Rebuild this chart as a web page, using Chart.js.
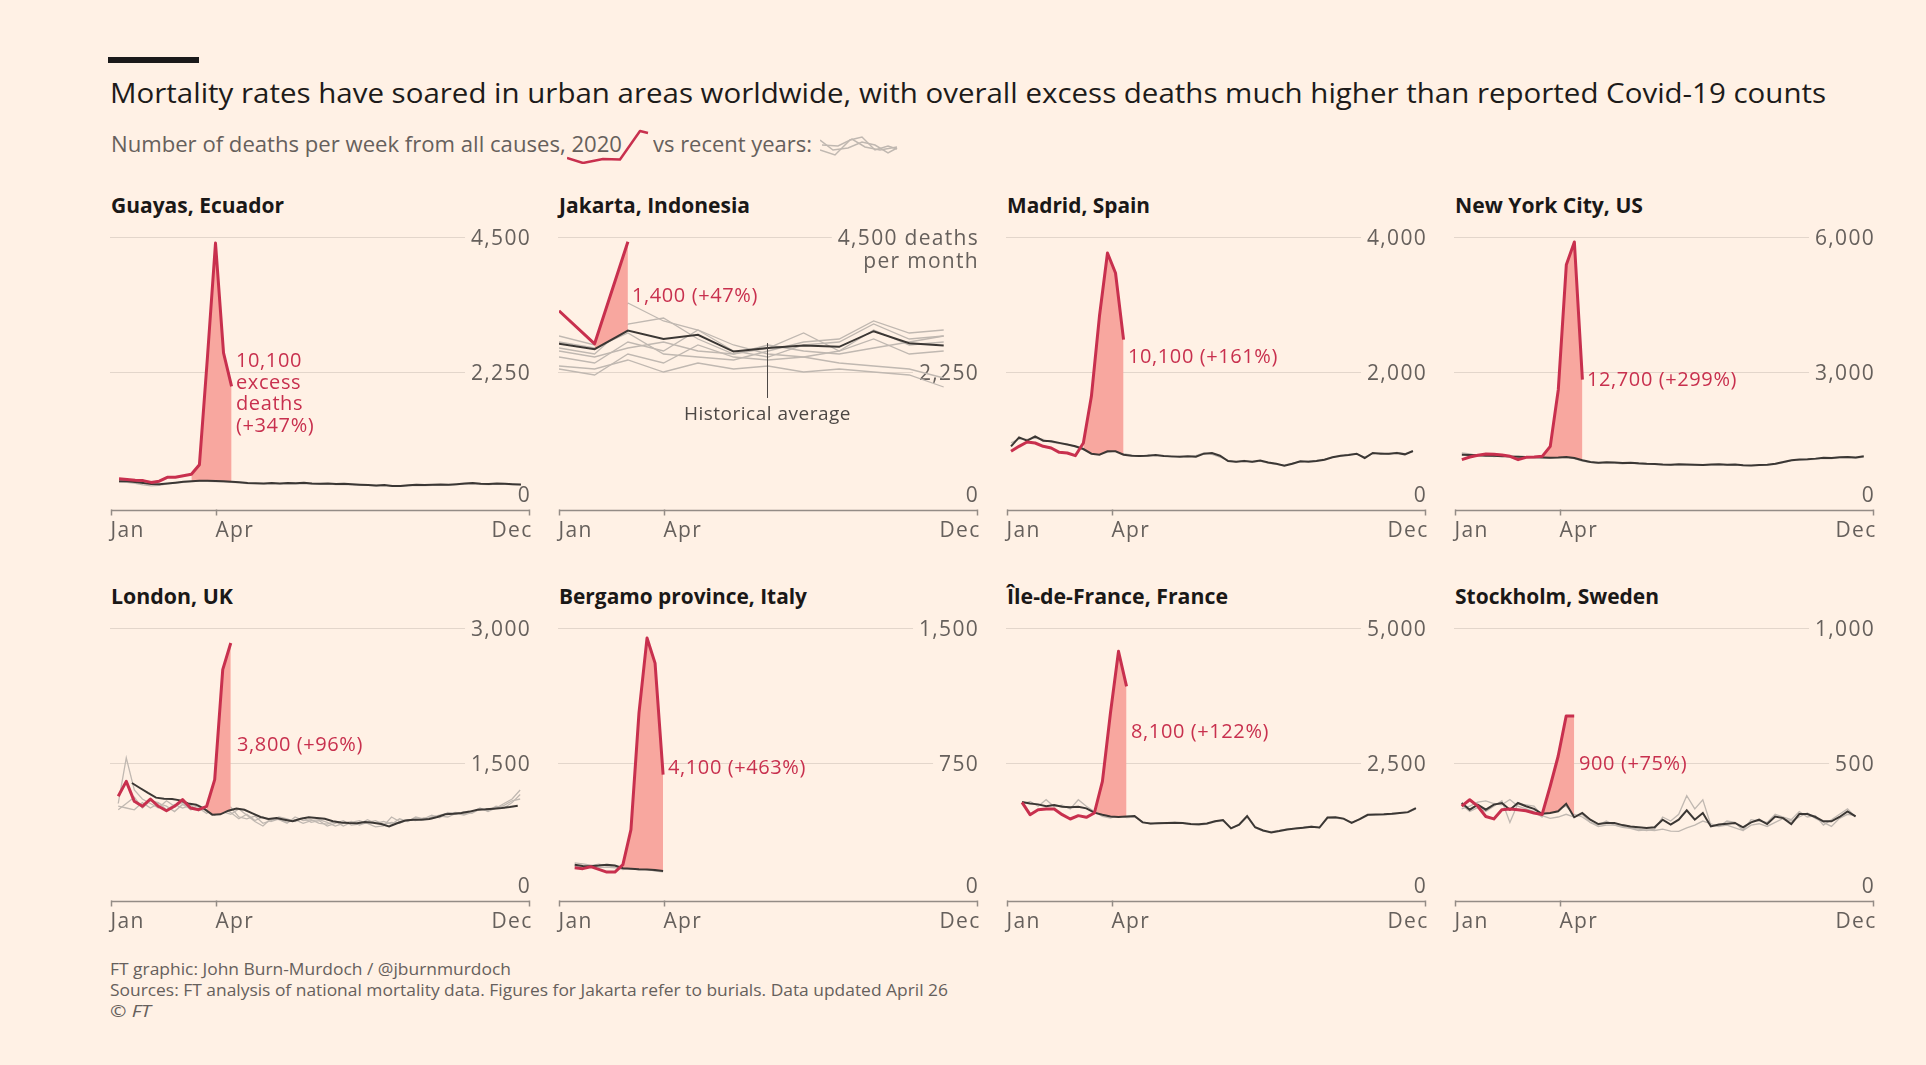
<!DOCTYPE html>
<html>
<head>
<meta charset="utf-8">
<script src="https://cdn.jsdelivr.net/npm/chart.js@4.4.1/dist/chart.umd.min.js"></script>
<style>
  html, body { margin: 0; padding: 0; background: #fff1e5; }
  body { width: 1926px; height: 1065px; position: relative; overflow: hidden; font-family: "Open Sans", sans-serif; }
  .t { position: absolute; white-space: nowrap; line-height: 1; transform-origin: 0 0; }
  canvas { position: absolute; }
</style>
</head>
<body>
<div style="position:absolute;left:108px;top:57px;width:91px;height:6px;background:#1a1a1a"></div>
<div class="t" data-w="1716" style="left:110px;top:78px;font-size:28px;color:#1d1b1a">Mortality rates have soared in urban areas worldwide, with overall excess deaths much higher than reported Covid-19 counts</div>
<div class="t" data-w="511" style="left:111px;top:132px;font-size:22px;color:#66605c">Number of deaths per week from all causes, 2020</div>
<div class="t" data-w="159" style="left:653px;top:132px;font-size:22px;color:#66605c">vs recent years:</div>
<canvas id="keyRed" width="86" height="40" style="left:565px;top:126px"></canvas>
<canvas id="keyGrey" width="82" height="28" style="left:818px;top:132px"></canvas>
<div id="panels"></div>
<div class="t" data-w="401" style="left:110px;top:961px;font-size:16.5px;color:#66605c">FT graphic: John Burn-Murdoch / @jburnmurdoch</div>
<div class="t" data-w="838" style="left:110px;top:982px;font-size:16.5px;color:#66605c">Sources: FT analysis of national mortality data. Figures for Jakarta refer to burials. Data updated April 26</div>
<div class="t" data-w="41" style="left:110px;top:1003px;font-size:16.5px;color:#66605c">© <i>FT</i></div>

<script>
// ---- axis labels ----
const monthLabels = ['Jan', 'Apr', 'Dec'];
const monthTickWeeks = [0, 13, 52];
// Jakarta is monthly: day of year of each month start
const jakartaMonthDays = [0, 31, 60, 91, 121, 152, 182, 213, 244, 274, 305, 335];

// ---- Guayas, Ecuador ----
const guayas2020 = [470, 460, 445, 440, 410, 430, 495, 495, 520, 545, 705, 2500, 4400, 2570, 2010];
const guayasAvg = [430, 428, 415, 400, 385, 378, 392, 405, 420, 428, 436, 438, 432, 428, 420, 412, 400, 396, 392, 398,
  392, 401, 396, 404, 391, 386, 392, 382, 386, 378, 372, 368, 358, 366, 350, 352, 362, 372, 366, 370,
  376, 372, 381, 392, 398, 388, 382, 391, 386, 380, 376];
const guayasGreys = [
  [420, 410, 392, 370, 352, 360, 385, 398, 412, 425, 430, 428, 425, 418, 412, 402, 392, 388, 385, 388,
   384, 390, 385, 392, 380, 378, 384, 372, 375, 368, 362, 360, 350, 356, 345, 346, 352, 362, 358, 362,
   366, 364, 372, 380, 385, 378, 372, 380, 376, 372, 368]
];

// ---- Jakarta, Indonesia (monthly) ----
const jakarta2020 = [3270, 2720, 4420];
const jakartaAvg = [2720, 2630, 2940, 2800, 2870, 2590, 2650, 2690, 2670, 2930, 2730, 2690];
const jakartaGreys = [
  [2850, 2700, 3400, 3100, 2950, 2600, 2500, 2700, 2750, 3050, 2800, 2850],
  [2650, 2550, 3050, 3150, 2800, 2550, 2650, 2900, 2600, 2950, 2700, 2750],
  [2500, 2400, 2750, 2600, 2950, 2700, 2550, 2500, 2600, 2800, 2550, 2600],
  [2300, 2200, 2550, 2400, 2700, 2500, 2450, 2500, 2400, 2350, 2300, 2150],
  [2350, 2300, 2450, 2250, 2400, 2300, 2350, 2250, 2300, 2250, 2200, 2000],
  [2750, 2650, 2900, 2550, 2500, 2450, 2600, 2750, 2800, 3100, 2900, 2950],
  [2600, 2500, 2650, 2750, 2600, 2550, 2700, 2600, 2550, 2650, 2750, 2850]
];

// ---- Madrid, Spain ----
const madrid2020 = [825, 899, 963, 948, 899, 874, 810, 800, 760, 948, 1640, 2825, 3763, 3467, 2479];
const madridAvg = [899, 1032, 983, 1047, 983, 975, 950, 925, 899, 859, 790, 775, 825, 825, 775, 760, 755, 760, 770, 755,
  750, 745, 750, 745, 790, 800, 760, 680, 670, 680, 670, 690, 660, 640, 612, 640, 677, 670, 680, 700,
  736, 760, 770, 790, 726, 800, 790, 790, 800, 780, 830];
const madridGreys = [
  [950, 1010, 1000, 1020, 1000, 960, 940, 930, 890, 850, 800, 790, 810, 830, 790, 770, 750, 770, 760, 760,
   740, 750, 745, 760, 800, 780, 740, 690, 665, 690, 660, 680, 650, 630, 620, 650, 670, 680, 690, 710,
   740, 750, 780, 780, 740, 790, 800, 780, 810, 790, 820]
];

// ---- New York City, US ----
const nyc2020 = [1052, 1111, 1150, 1178, 1170, 1156, 1126, 1052, 1104, 1110, 1126, 1348, 2607, 5385, 5889, 2830];
const nycAvg = [1160, 1155, 1150, 1140, 1138, 1130, 1125, 1118, 1112, 1105, 1100, 1096, 1098, 1110, 1090, 1040, 1000, 985, 995, 990,
  980, 985, 970, 960, 955, 945, 940, 950, 945, 940, 935, 945, 950, 940, 945, 930, 925, 935, 940, 960,
  1000, 1040, 1055, 1060, 1075, 1095, 1090, 1104, 1110, 1100, 1126];
const nycGreys = [
  [1200, 1180, 1140, 1150, 1120, 1135, 1110, 1125, 1100, 1110, 1095, 1085, 1105, 1095, 1075, 1020, 990, 970, 985, 975,
   960, 975, 955, 950, 945, 935, 930, 940, 930, 935, 925, 935, 940, 930, 935, 920, 920, 925, 935, 950,
   985, 1030, 1040, 1055, 1060, 1080, 1075, 1095, 1100, 1085, 1110]
];

// ---- London, UK ----
const london2020 = [1130, 1296, 1074, 1019, 1100, 1019, 970, 1019, 1093, 1000, 981, 1019, 1315, 2537, 2833];
const londonAvg = [1278, 1222, 1167, 1115, 1104, 1100, 1085, 1050, 1037, 990, 926, 930, 970, 993, 980, 940, 900, 878, 890, 870,
  852, 880, 896, 890, 880, 852, 840, 833, 830, 845, 835, 822, 796, 830, 860, 870, 870, 878, 900, 930,
  935, 945, 960, 981, 985, 993, 1000, 1010, 1026];
const londonGreys = [
  [1050, 1556, 1200, 1100, 1050, 1000, 1080, 1020, 1060, 980, 1000, 940, 1010, 960, 930, 990, 920, 850, 800, 880,
   870, 830, 900, 860, 870, 830, 820, 850, 800, 840, 860, 830, 790, 800, 900, 850, 860, 880, 870, 900,
   920, 940, 950, 930, 960, 980, 990, 1000, 1050, 1100, 1200],
  [980, 1050, 1120, 1000, 1080, 1060, 980, 1040, 1000, 1030, 970, 1010, 960, 940, 1010, 900, 880, 910, 830, 860,
   900, 880, 850, 890, 840, 860, 800, 830, 860, 810, 820, 870, 830, 850, 820, 880, 850, 900, 880, 920,
   890, 950, 930, 960, 940, 990, 970, 1020, 1000, 1060, 1150],
  [1020, 1000, 980, 1060, 1000, 1050, 1020, 960, 1040, 990, 1030, 980, 920, 990, 950, 880, 930, 860, 900, 850,
   880, 840, 870, 830, 860, 870, 840, 800, 830, 850, 810, 840, 860, 820, 840, 830, 870, 860, 890, 880,
   910, 900, 940, 920, 950, 1000, 960, 1000, 1030, 1080, 1100]
];

// ---- Bergamo province, Italy ----
const bergamo2020 = [168, 163, 174, 159, 144, 144, 185, 380, 1028, 1444, 1305, 685];
const bergamoAvg = [185, 178, 176, 180, 185, 180, 165, 163, 160, 158, 155, 150];
const bergamoGreys = [
  [195, 190, 182, 170, 172, 168, 170, 160, 163, 158, 152, 148],
  [175, 172, 180, 188, 178, 172, 158, 166, 155, 160, 150, 145]
];

// ---- Ile-de-France, France ----
const idf2020 = [1772, 1543, 1636, 1648, 1648, 1543, 1463, 1525, 1494, 1574, 2160, 3426, 4568, 3920];
const idfAvg = [1777, 1750, 1734, 1700, 1720, 1690, 1679, 1690, 1660, 1580, 1543, 1510, 1500, 1510, 1519, 1400, 1380, 1385, 1390, 1395,
  1390, 1370, 1365, 1380, 1420, 1444, 1290, 1360, 1519, 1310, 1250, 1215, 1240, 1270, 1285, 1300, 1320, 1305, 1490, 1495,
  1470, 1390, 1460, 1540, 1545, 1550, 1560, 1575, 1590, 1665];
const idfGreys = [
  [1740, 1790, 1700, 1820, 1690, 1720, 1650, 1820, 1700, 1600, 1510, 1480, 1530, 1490, 1500, 1410, 1370, 1395, 1380, 1400,
   1380, 1360, 1350, 1370, 1410, 1430, 1300, 1350, 1500, 1300, 1240, 1230, 1250, 1280, 1290, 1310, 1330, 1300, 1480, 1480,
   1460, 1400, 1450, 1530, 1540, 1540, 1550, 1570, 1580, 1650]
];

// ---- Stockholm, Sweden ----
const stockholm2020 = [340, 364, 340, 302, 293, 327, 330, 327, 323, 315, 309, 413, 525, 674, 674];
const stockholmAvg = [352, 327, 346, 327, 346, 352, 327, 352, 340, 330, 312, 315, 321, 349, 299, 315, 290, 274, 278, 278,
  270, 265, 262, 259, 262, 290, 272, 290, 325, 290, 315, 265, 272, 275, 278, 262, 280, 290, 274, 302,
  296, 274, 311, 311, 300, 284, 284, 300, 321, 302];
const stockholmGreys = [
  [330, 340, 355, 360, 350, 345, 365, 340, 330, 320, 300, 360, 330, 340, 310, 300, 280, 270, 285, 270,
   265, 260, 255, 250, 255, 300, 285, 310, 379, 330, 364, 270, 265, 285, 280, 250, 290, 285, 280, 310,
   300, 290, 320, 300, 305, 270, 290, 310, 330, 300],
  [345, 320, 335, 320, 340, 360, 280, 350, 345, 340, 305, 295, 300, 310, 300, 310, 280, 265, 270, 270,
   262, 258, 250, 252, 250, 255, 248, 247, 260, 270, 285, 275, 265, 270, 260, 250, 270, 275, 265, 280,
   295, 285, 300, 315, 295, 280, 265, 295, 310, 305]
];

// ---- key glyphs in the subtitle ----
const keyRedX = [0, 16, 36, 53, 73, 81];
const keyRedY = [6, 1, 5, 4.5, 33, 31];
const keyGreyX = [[0, 15, 30, 42, 55, 68, 77], [0, 13, 28, 42, 55, 68, 77], [2, 18, 32, 45, 60, 77]];
const keyGreyY = [[8, 3, 18, 21, 8, 12, 9], [18, 8, 10, 16, 13, 5, 10], [13, 12, 19, 11, 8, 11]];

const RED = '#c8304e', PINK = '#f8a79f', AVG = '#3b3734', GREY = '#c0b8b1', TXT = '#66605c';
const colX = [111, 559, 1007, 1455];
const rowTop = [237, 628];
const plotW = 418, plotH = 270;

const jakartaWeeks = jakartaMonthDays.map(d => d / 7);

const panels = [
  { name: 'Guayas, Ecuador', col: 0, row: 0, titleW: 173, max: 4500, yLabels: ['0', '2,250', '4,500'],
    red: guayas2020, redStart: 1, avg: guayasAvg, avgStart: 1, greys: guayasGreys, greyStart: 1, excessFrom: 9,
    note: ['10,100', 'excess', 'deaths', '(+347%)'], noteAt: [15.55, 2450] },
  { name: 'Jakarta, Indonesia', col: 1, row: 0, titleW: 191, max: 4500, yLabels: ['0', '2,250', '4,500 deaths'], unitLine: 'per month',
    red: jakarta2020, avg: jakartaAvg, greys: jakartaGreys, monthly: true, excessFrom: 1,
    note: ['1,400 (+47%)'], noteAt: [9.08, 3533],
    pointer: { x: 25.9, from: 2733, to: 1817, label: 'Historical average', labelAt: 1567 } },
  { name: 'Madrid, Spain', col: 2, row: 0, titleW: 143, max: 4000, yLabels: ['0', '2,000', '4,000'],
    red: madrid2020, redStart: 0.5, avg: madridAvg, avgStart: 0.5, greys: madridGreys, greyStart: 0.5, excessFrom: 9,
    note: ['10,100 (+161%)'], noteAt: [15.05, 2237] },
  { name: 'New York City, US', col: 3, row: 0, titleW: 188, max: 6000, yLabels: ['0', '3,000', '6,000'],
    red: nyc2020, redStart: 0.85, avg: nycAvg, avgStart: 0.85, greys: nycGreys, greyStart: 0.85, excessFrom: 10,
    note: ['12,700 (+299%)'], noteAt: [16.42, 2844] },
  { name: 'London, UK', col: 0, row: 1, titleW: 122, max: 3000, yLabels: ['0', '1,500', '3,000'],
    red: london2020, redStart: 0.9, avg: londonAvg, avgStart: 2.6, greys: londonGreys, greyStart: 0.9, excessFrom: 11,
    note: ['3,800 (+96%)'], noteAt: [15.68, 1711] },
  { name: 'Bergamo province, Italy', col: 1, row: 1, titleW: 248, max: 1500, yLabels: ['0', '750', '1,500'],
    red: bergamo2020, redStart: 1.95, avg: bergamoAvg, avgStart: 1.95, greys: bergamoGreys, greyStart: 1.95, excessFrom: 6,
    note: ['4,100 (+463%)'], noteAt: [13.56, 728] },
  { name: 'Île-de-France, France', col: 2, row: 1, titleW: 221, max: 5000, yLabels: ['0', '2,500', '5,000'],
    red: idf2020, redStart: 1.87, avg: idfAvg, avgStart: 1.87, greys: idfGreys, greyStart: 1.87, excessFrom: 9,
    note: ['8,100 (+122%)'], noteAt: [15.43, 3093] },
  { name: 'Stockholm, Sweden', col: 3, row: 1, titleW: 204, max: 1000, yLabels: ['0', '500', '1,000'],
    red: stockholm2020, redStart: 0.83, avg: stockholmAvg, avgStart: 0.83, greys: stockholmGreys, greyStart: 0.83, excessFrom: 10,
    note: ['900 (+75%)'], noteAt: [15.43, 500] }
];

function pts(values, p, start) {
  return values.map((v, i) => ({ x: p.monthly ? jakartaWeeks[i] : start + i, y: v }));
}

function framePlugin(p) {
  return {
    id: 'ftFrame',
    beforeDatasetsDraw(chart) {
      const { ctx, chartArea: a, scales: { x, y } } = chart;
      ctx.save();
      ctx.font = '21px "Open Sans"';
      ctx.letterSpacing = '1.3px';
      ctx.fillStyle = TXT;
      ctx.textAlign = 'right';
      [0, p.max / 2, p.max].forEach((v, i) => {
        const py = Math.round(y.getPixelForValue(v));
        const lbl = p.yLabels[i];
        if (v === 0) { ctx.fillText(lbl, a.right + 2, py - 5); return; }
        const w = ctx.measureText(lbl).width;
        ctx.strokeStyle = '#e3d6cb';
        ctx.lineWidth = 1;
        ctx.beginPath();
        ctx.moveTo(a.left - 1, py + 0.5);
        ctx.lineTo(a.right - w - 4, py + 0.5);
        ctx.stroke();
        ctx.fillText(lbl, a.right + 2, py + 7.5);
        if (i === 2 && p.unitLine) ctx.fillText(p.unitLine, a.right + 2, py + 31);
      });
      // x axis with Jan / Apr / Dec ticks
      const ay = a.bottom + 3.5;
      ctx.strokeStyle = '#948c86';
      ctx.lineWidth = 1.5;
      ctx.beginPath();
      ctx.moveTo(x.getPixelForValue(0), ay);
      ctx.lineTo(x.getPixelForValue(52), ay);
      ctx.stroke();
      monthTickWeeks.forEach((wk, i) => {
        const px = Math.round(x.getPixelForValue(wk)) + 0.5;
        ctx.beginPath();
        ctx.moveTo(px, ay - 1);
        ctx.lineTo(px, ay + 5);
        ctx.stroke();
        ctx.textAlign = i === 2 ? 'right' : 'left';
        ctx.fillText(monthLabels[i], i === 2 ? px + 3 : px - 1, a.bottom + 30);
      });
      ctx.restore();
    },
    afterDatasetsDraw(chart) {
      const { ctx, scales: { x, y } } = chart;
      ctx.save();
      ctx.font = '20px "Open Sans"';
      ctx.letterSpacing = '0.6px';
      ctx.textAlign = 'left';
      ctx.fillStyle = RED;
      const nx = x.getPixelForValue(p.noteAt[0]);
      const ny = y.getPixelForValue(p.noteAt[1]);
      p.note.forEach((line, i) => ctx.fillText(line, nx, ny + 7 + i * 21.5));
      if (p.pointer) {
        const q = p.pointer;
        const px = Math.round(x.getPixelForValue(q.x)) + 0.5;
        ctx.strokeStyle = '#4d4845';
        ctx.lineWidth = 1;
        ctx.beginPath();
        ctx.moveTo(px, y.getPixelForValue(q.from));
        ctx.lineTo(px, y.getPixelForValue(q.to));
        ctx.stroke();
        ctx.font = '19px "Open Sans"';
        ctx.letterSpacing = '0.5px';
        ctx.fillStyle = '#4d4845';
        ctx.textAlign = 'center';
        ctx.fillText(q.label, px, y.getPixelForValue(q.labelAt) + 7);
      }
      ctx.restore();
    }
  };
}

const host = document.getElementById('panels');
panels.forEach(p => {
  const left = colX[p.col], top = rowTop[p.row];
  const title = document.createElement('div');
  title.className = 't';
  title.dataset.w = p.titleW;
  title.textContent = p.name;
  title.style.cssText = `left:${left}px;top:${top - 42}px;font-size:21px;font-weight:700;color:#1a1817`;
  host.appendChild(title);

  const cv = document.createElement('canvas');
  cv.width = plotW + 40;
  cv.height = plotH + 70;
  cv.style.left = (left - 20) + 'px';
  cv.style.top = (top - 25) + 'px';
  host.appendChild(cv);

  const redPts = pts(p.red, p, p.redStart);
  const datasets = [
    { data: redPts, borderColor: RED, borderWidth: 3, borderJoinStyle: 'round', fill: false },
    { data: pts(p.avg, p, p.avgStart), borderColor: AVG, borderWidth: 2, fill: false },
    { data: redPts.slice(p.excessFrom), borderWidth: 0, borderColor: 'rgba(0,0,0,0)',
      fill: { target: 1, above: PINK, below: 'rgba(0,0,0,0)' } }
  ];
  p.greys.forEach(g => datasets.push({ data: pts(g, p, p.greyStart), borderColor: GREY, borderWidth: 1.3, fill: false }));

  new Chart(cv, {
    type: 'line',
    data: { datasets },
    options: {
      responsive: false, animation: false, events: [],
      layout: { padding: { left: 20, right: 20, top: 25, bottom: 45 } },
      scales: {
        x: { type: 'linear', min: 0, max: 52, display: false },
        y: { type: 'linear', min: 0, max: p.max, display: false }
      },
      elements: { point: { radius: 0 }, line: { tension: 0 } },
      plugins: { legend: { display: false }, tooltip: { enabled: false } }
    },
    plugins: [framePlugin(p)]
  });
});

// key glyphs
const keyOpts = (xmax, ymax) => ({
  responsive: false, animation: false, events: [],
  layout: { padding: 2 },
  scales: { x: { type: 'linear', min: 0, max: xmax, display: false }, y: { type: 'linear', min: 0, max: ymax, display: false } },
  elements: { point: { radius: 0 }, line: { tension: 0 } },
  plugins: { legend: { display: false }, tooltip: { enabled: false } }
});
new Chart(document.getElementById('keyRed'), {
  type: 'line',
  data: { datasets: [{ data: keyRedX.map((v, i) => ({ x: v, y: keyRedY[i] })), borderColor: RED, borderWidth: 2.5, borderJoinStyle: 'round' }] },
  options: keyOpts(82, 36)
});
new Chart(document.getElementById('keyGrey'), {
  type: 'line',
  data: { datasets: keyGreyX.map((xs, k) => ({ data: xs.map((v, i) => ({ x: v, y: keyGreyY[k][i] })), borderColor: GREY, borderWidth: 1.5 })) },
  options: keyOpts(78, 24)
});

// match measured text widths
document.querySelectorAll('[data-w]').forEach(el => {
  const w = el.getBoundingClientRect().width;
  el.style.transform = `scaleX(${(+el.dataset.w / w).toFixed(4)})`;
});
</script>
</body>
</html>
